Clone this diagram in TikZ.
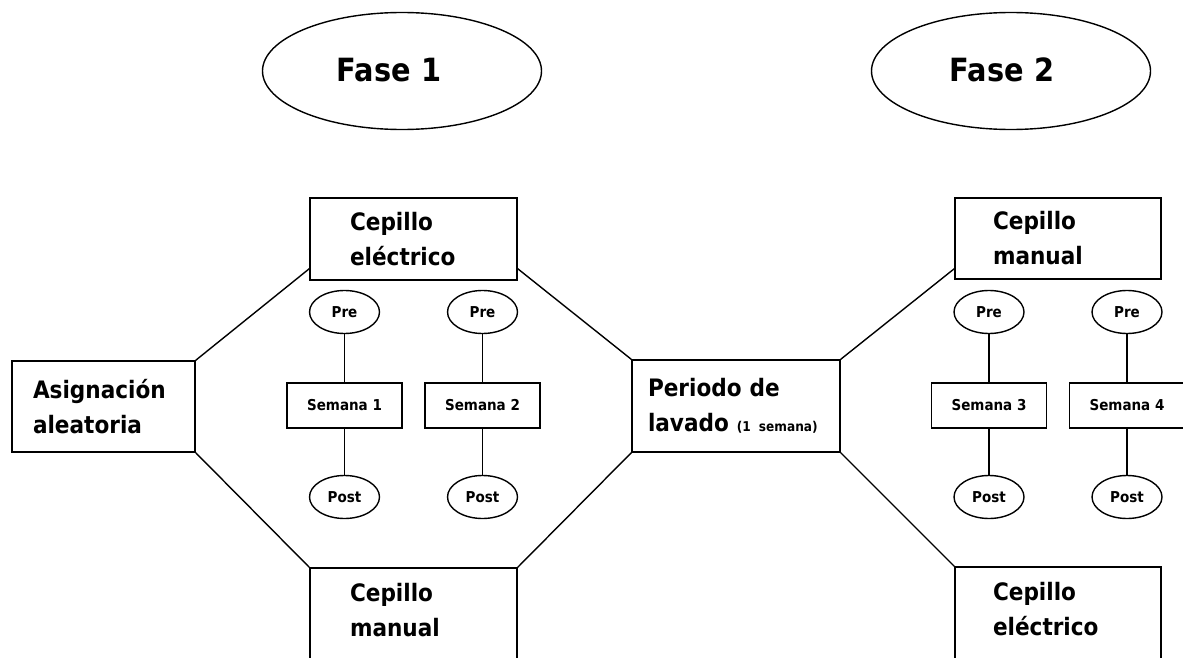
\documentclass[tikz,border=0pt]{standalone}
\usepackage{fontspec}
\setmainfont{DejaVu Sans}[FakeStretch=0.9]
\usetikzlibrary{shapes.geometric}
\tikzset{
  bigbox/.style={draw, rectangle, inner sep=0pt, align=left, font=\fontsize{24}{35}\selectfont\bfseries},
  boxtext/.style={inner sep=0pt, align=left, font=\fontsize{24}{35}\selectfont\bfseries},
  weekbox/.style={draw, rectangle, inner sep=0pt, minimum width=115, minimum height=45, font=\fontsize{15}{17}\selectfont\bfseries},
  small/.style={draw, ellipse, inner sep=0pt, minimum width=70, minimum height=43, font=\fontsize{15}{17}\selectfont\bfseries},
  phase/.style={draw, ellipse, inner sep=0pt, minimum width=279, minimum height=117},
  phasetext/.style={inner sep=0pt, font=\fontsize{32}{36}\selectfont\bfseries},
  link/.style={draw, line width=1.4pt}
}
\begin{document}
\begin{tikzpicture}[x=1pt, y=-1pt, line width=1.4pt]
\useasboundingbox (0,0) rectangle (1183,658);
\fill[white] (0,0) rectangle (1183,658);

% phases
\node[phase] (f1) at (402,71) {};
\node[phasetext] (f1t) at (389,70) {Fase 1};
\node[phase] (f2) at (1011,71) {};
\node[phasetext] (f2t) at (1002,70) {Fase 2};

% main boxes
\node[bigbox, minimum width=183, minimum height=91, text width=141] (asig) at (103.5,406.5) {Asignación\\aleatoria};
\node[bigbox, minimum width=207, minimum height=82, text width=127] (ce1) at (413.5,239) {Cepillo\\eléctrico};
\node[draw, rectangle, inner sep=0pt, minimum width=207, minimum height=100] (cm1) at (413.5,618) {};
\node[boxtext, text width=127] (cm1t) at (413.5,610) {Cepillo\\manual};
\node[bigbox, minimum width=208, minimum height=92, text width=176] (per) at (736,406) {Periodo de\\lavado {\fontsize{13.5}{15}\selectfont (1 semana)}};
\node[bigbox, minimum width=206, minimum height=81, text width=130] (cm2) at (1058,238.5) {Cepillo\\manual};
\node[draw, rectangle, inner sep=0pt, minimum width=206, minimum height=100] (ce2) at (1058,617) {};
\node[boxtext, text width=130] (ce2t) at (1058,609) {Cepillo\\eléctrico};

% octagon links
\draw[link] (asig.north east) -- ([yshift=12pt]ce1.south west);
\draw[link] ([yshift=12pt]ce1.south east) -- (per.north west);
\draw[link] (asig.south east) -- (cm1.north west);
\draw[link] (per.south west) -- (cm1.north east);
\draw[link] (per.north east) -- ([yshift=11pt]cm2.south west);
\draw[link] (per.south east) -- (ce2.north west);

% weeks phase 1
\node[small] (pre1) at (344.5,312) {Pre};
\node[weekbox] (s1) at (344.5,405.5) {Semana 1};
\node[small] (post1) at (344.5,497) {Post};
\node[small] (pre2) at (482.5,312) {Pre};
\node[weekbox] (s2) at (482.5,405.5) {Semana 2};
\node[small] (post2) at (482.5,497) {Post};
% weeks phase 2
\node[small] (pre3) at (989,312) {Pre};
\node[weekbox] (s3) at (989,405.5) {Semana 3};
\node[small] (post3) at (989,497) {Post};
\node[small] (pre4) at (1127,312) {Pre};
\node[weekbox] (s4) at (1127,405.5) {Semana 4};
\node[small] (post4) at (1127,497) {Post};

\foreach \i in {1,2,3,4}{
  \draw[link] (pre\i.south) -- (s\i.north);
  \draw[link] (s\i.south) -- (post\i.north);
}
\end{tikzpicture}
\end{document}
